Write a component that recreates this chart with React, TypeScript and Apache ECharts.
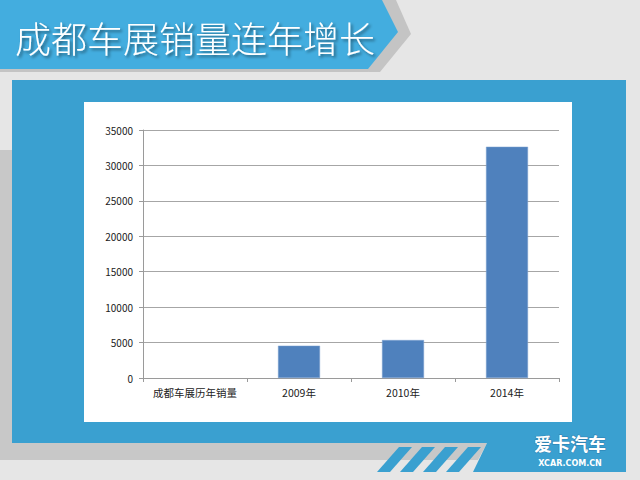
import React, { useEffect, useRef } from "react";
import * as echarts from "echarts";

const categories = ["成都车展历年销量", "2009年", "2010年", "2014年"];
const sales: (number | null)[] = [null, 4560, 5360, 32640];
const yMin = 0;
const yMax = 35000;
const yInterval = 5000;
const titleText = "成都车展销量连年增长";
const logoText = "爱卡汽车";
const logoSub = "XCAR.COM.CN";

const stripeXs = [399, 422, 445, 468];

export default function App() {
  const ref = useRef<HTMLDivElement>(null);
  useEffect(() => {
    if (!ref.current) return;
    const chart = echarts.init(ref.current, undefined, { renderer: "svg" });
    const blue = "#3aa0d0";
    const stripes = stripeXs.map((x) => ({
      type: "polygon",
      z: -5,
      shape: { points: [[x, 447], [x + 13, 447], [x - 9, 472], [x - 22, 472]] },
      style: { fill: blue },
      silent: true,
    }));
    chart.setOption({
      animation: false,
      backgroundColor: "#e6e6e6",
      graphic: [
        { type: "rect", z: -10, shape: { x: 0, y: 150, width: 12, height: 310 }, style: { fill: "#c8c8c8" }, silent: true },
        { type: "polygon", z: -9, shape: { points: [[0, 443], [487, 443], [478, 460], [0, 460]] }, style: { fill: "#c8c8c8" }, silent: true },
        ...stripes,
        { type: "rect", z: -8, shape: { x: 12, y: 80, width: 614, height: 363 }, style: { fill: blue }, silent: true },
        { type: "polygon", z: -8, shape: { points: [[487, 443], [626, 443], [626, 472], [473, 472]] }, style: { fill: blue }, silent: true },
        { type: "rect", z: -7, shape: { x: 84, y: 102, width: 488, height: 320 }, style: { fill: "#ffffff" }, silent: true },
        { type: "polygon", z: -6, shape: { points: [[0, 66], [372, 66], [368, 72], [0, 72]] }, style: { fill: "#c4c4c4" }, silent: true },
        { type: "polygon", z: -6, shape: { points: [[382, 0], [396, 0], [411, 34], [380, 72], [368, 72]] }, style: { fill: "#c4c4c4" }, silent: true },
        { type: "polygon", z: -5, shape: { points: [[0, 0], [382, 0], [398, 32], [368, 69], [0, 69]] }, style: { fill: "#43addf" }, silent: true },
        {
          type: "text", z: 10, x: 15, y: 37,
          style: {
            text: titleText, fill: "#ffffff", fontSize: 36,
            fontFamily: "Noto Sans CJK SC", fontWeight: 300,
            verticalAlign: "middle", align: "left",
            textShadowColor: "rgba(0,0,0,0.45)", textShadowBlur: 3, textShadowOffsetX: 2, textShadowOffsetY: 2,
          },
          silent: true,
        },
        {
          type: "text", z: 10, x: 570, y: 443,
          style: {
            text: logoText, fill: "#ffffff", fontSize: 18, fontWeight: "bold",
            fontFamily: "Noto Sans CJK SC", align: "center", verticalAlign: "middle",
            stroke: "#2a7fb0", lineWidth: 1,
          },
          silent: true,
        },
        {
          type: "text", z: 10, x: 570, y: 463,
          style: {
            text: logoSub, fill: "#ffffff", fontSize: 8, fontWeight: "bold",
            fontFamily: "DejaVu Sans", align: "center", verticalAlign: "middle",
          },
          silent: true,
        },
      ],
      grid: { left: 143, right: 81, top: 130, bottom: 102, containLabel: false },
      xAxis: {
        type: "category",
        data: categories,
        boundaryGap: true,
        axisLine: { show: true, lineStyle: { color: "#9a9a9a", width: 1 } },
        axisTick: { show: true, length: 4, alignWithLabel: false, lineStyle: { color: "#9a9a9a" } },
        axisLabel: { color: "#222", fontSize: 10.5, margin: 9, fontFamily: "Noto Sans CJK SC", interval: 0 },
        splitLine: { show: false },
      },
      yAxis: {
        type: "value",
        min: yMin,
        max: yMax,
        interval: yInterval,
        axisLine: { show: true, lineStyle: { color: "#9a9a9a", width: 1 } },
        axisTick: { show: true, length: 4, lineStyle: { color: "#9a9a9a" } },
        axisLabel: {
          color: "#222", fontSize: 10, margin: 10, fontFamily: "Noto Sans CJK SC",
          formatter: (v: number) => String(v),
        },
        splitLine: { show: true, lineStyle: { color: "#a6a6a6", width: 1 } },
      },
      series: [
        {
          type: "bar",
          data: sales,
          barWidth: 42,
          itemStyle: { color: "#4f81bd", borderColor: "#7ea3d0", borderWidth: 0.5 },
        },
      ],
    });
    return () => chart.dispose();
  }, []);
  return (
    <div
      ref={ref}
      style={{ position: "fixed", left: 0, top: 0, width: 640, height: 480 }}
    />
  );
}
